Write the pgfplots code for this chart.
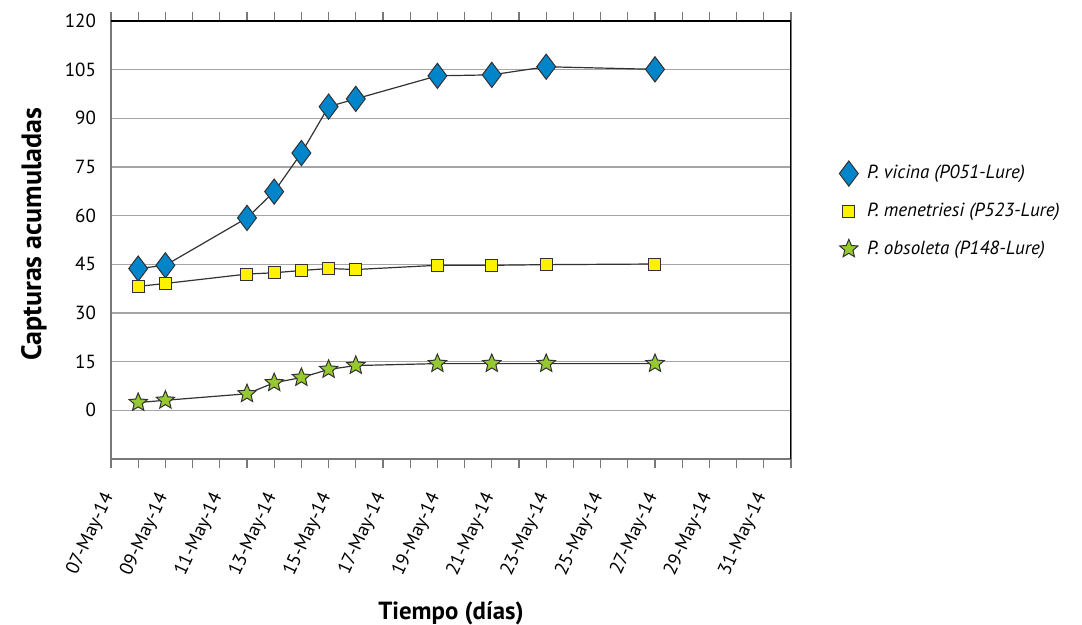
\documentclass[border=0pt]{standalone}
\usepackage{pgfplots}
\pgfplotsset{compat=1.18}
\usepackage{fontspec}
\setmainfont{PT Sans}
\definecolor{cblue}{RGB}{0,132,202}
\definecolor{cyellow}{RGB}{255,242,0}
\definecolor{cgreen}{RGB}{150,200,50}
\definecolor{cgrid}{RGB}{165,165,165}
\definecolor{cline}{RGB}{50,50,50}
\definecolor{caxis}{RGB}{120,120,120}
\pgfdeclareplotmark{fstar}{%
  \pgfpathmoveto{\pgfpointpolar{90}{\pgfplotmarksize}}%
  \pgfpathlineto{\pgfpointpolar{126}{0.45\pgfplotmarksize}}%
  \pgfpathlineto{\pgfpointpolar{162}{\pgfplotmarksize}}%
  \pgfpathlineto{\pgfpointpolar{198}{0.45\pgfplotmarksize}}%
  \pgfpathlineto{\pgfpointpolar{234}{\pgfplotmarksize}}%
  \pgfpathlineto{\pgfpointpolar{270}{0.45\pgfplotmarksize}}%
  \pgfpathlineto{\pgfpointpolar{306}{\pgfplotmarksize}}%
  \pgfpathlineto{\pgfpointpolar{342}{0.45\pgfplotmarksize}}%
  \pgfpathlineto{\pgfpointpolar{18}{\pgfplotmarksize}}%
  \pgfpathlineto{\pgfpointpolar{54}{0.45\pgfplotmarksize}}%
  \pgfpathclose
  \pgfusepathqfillstroke}
\begin{document}
\begin{tikzpicture}
\useasboundingbox (-55.5pt,-83pt) rectangle (485.5pt,229.5pt);
\begin{axis}[
  at={(0,0)}, anchor=south west,
  scale only axis, width=340pt, height=219pt,
  xmin=0, xmax=25, ymin=-15, ymax=120,
  ytick={0,15,...,120},
  xtick={0,2,...,24},
  minor xtick={1,3,...,25},
  xticklabels={07-May-14,09-May-14,11-May-14,13-May-14,15-May-14,17-May-14,19-May-14,21-May-14,23-May-14,25-May-14,27-May-14,29-May-14,31-May-14},
  tick align=outside,
  major tick length=4.5pt, minor tick length=4.5pt,
  xtick style={caxis, line width=0.6pt},
  minor x tick style={caxis, line width=0.6pt},
  ytick style={draw=none},
  ymajorgrids, grid style={cgrid, line width=0.7pt},
  axis line style={caxis, line width=0.7pt},
  /pgf/number format/assume math mode=true,
  tick label style={font=\fontsize{9.5}{11}\selectfont},
  yticklabel style={xshift=0.5pt},
  xticklabel style={anchor=east, xshift=0.5pt, yshift=-10pt, rotate=65},
  xlabel={Tiempo (días)},
  ylabel={Capturas acumuladas},
  xlabel style={font=\fontsize{12.4}{14}\bfseries, at={(axis description cs:0.5,-0.352)}, anchor=center},
  ylabel style={font=\fontsize{14}{16}\bfseries, at={(axis description cs:-0.1135,0.513)}, anchor=center},
  legend style={at={(axis description cs:1.063,0.566)}, anchor=west, draw=none,
    font=\fontsize{9.5}{11}\itshape, row sep=6.5pt, inner sep=0pt},
  legend cell align=left,
  legend image code/.code={\path (0pt,0pt) (13.8pt,0pt); \draw[#1, only marks] plot coordinates {(7pt,0pt)};},
]
\addplot[cline, line width=0.6pt, mark=diamond*, mark size=6.3pt,
  mark options={solid, fill=cblue, draw=cline, line width=0.5pt}]
  coordinates {(1,43.7)(2,44.7)(5,59.3)(6,67.4)(7,79.3)(8,93.6)(9,96)(12,103.1)(14,103.4)(16,105.9)(20,105.1)};
\addlegendentry{P. vicina (P051-Lure)}
\addplot[cline, line width=0.6pt, mark=square*, mark size=3pt,
  mark options={solid, fill=cyellow, draw=cline, line width=0.5pt}]
  coordinates {(1,38.2)(2,39.1)(5,42)(6,42.4)(7,43.1)(8,43.7)(9,43.4)(12,44.7)(14,44.7)(16,44.9)(20,45.1)};
\addlegendentry{P. menetriesi (P523-Lure)}
\addplot[cline, line width=0.6pt, mark=fstar, mark size=4.8pt,
  mark options={solid, fill=cgreen, draw=cline, line width=0.5pt}]
  coordinates {(1,2.4)(2,3.1)(5,5.1)(6,8.5)(7,10.1)(8,12.6)(9,13.8)(12,14.4)(14,14.4)(16,14.4)(20,14.4)};
\addlegendentry{P. obsoleta (P148-Lure)}
\draw[black, line width=0.7pt] (rel axis cs:0,1) -- (rel axis cs:1,1) -- (rel axis cs:1,0);
\end{axis}
\end{tikzpicture}
\end{document}
